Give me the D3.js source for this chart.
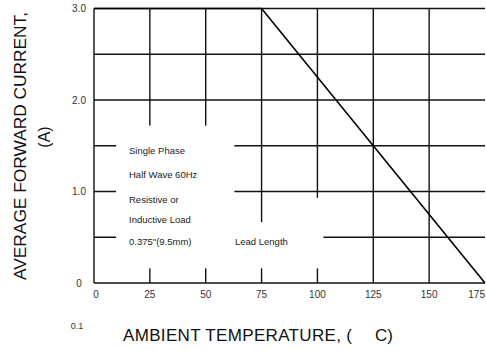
<!DOCTYPE html>
<html>
<head>
<meta charset="utf-8">
<script src="https://cdn.jsdelivr.net/npm/d3@7"></script>
<style>
	body { margin: 0; background: #fff; }
	svg { display: block; font-family: "Liberation Sans", Arial, sans-serif; }
</style>
</head>
<body>
<div id="chart"></div>
<script>
/* derating curve: ambient temperature (C) vs average forward current (A) */
const temperatures = [0, 75, 175];
const currents = [3.0, 3.0, 0];

/* grid and tick values */
const xTicks = [0, 25, 50, 75, 100, 125, 150, 175];
const gridX = [0, 25, 50, 75, 100, 125, 150];
const gridY = [0, 0.5, 1.0, 1.5, 2.0, 2.5, 3.0];
const yTickLabels = ["0", "1.0", "2.0", "3.0"];
const yTickValues = [0, 1, 2, 3];

/* note block text */
const noteLines = ["Single Phase", "Half Wave 60Hz", "Resistive or", "Inductive Load", "0.375\"(9.5mm)"];
const noteLevels = [1.41, 1.15, 0.87, 0.66, 0.42];

const width = 486, height = 351;

const svg = d3.select("#chart")
	.append("svg")
	.attr("width", width)
	.attr("height", height);

const x = d3.scaleLinear().domain([0, 175]).range([94, 485]);
const y = d3.scaleLinear().domain([0, 3]).range([283, 8.5]);

const grid = svg.append("g").attr("class", "grid")
	.attr("stroke", "#111")
	.attr("stroke-width", 1.4);

grid.selectAll(".vline")
	.data(gridX)
	.enter()
	.append("line")
		.attr("x1", (d) => x(d))
		.attr("x2", (d) => x(d))
		.attr("y1", y(0))
		.attr("y2", y(3));

grid.selectAll(".hline")
	.data(gridY)
	.enter()
	.append("line")
		.attr("x1", x(0))
		.attr("x2", x(175))
		.attr("y1", (d) => y(d))
		.attr("y2", (d) => y(d));

/* white knock-outs behind the note text (grid is broken there) */
const masks = [
	{ x0: 9.9, x1: 62.8, y0: 0.16, y1: 1.72 },
	{ x0: 62.5, x1: 102.7, y0: 0.16, y1: 0.665 },
	{ x0: 95, x1: 102.7, y0: 0.6, y1: 0.93 }
];
svg.append("g").selectAll("rect")
	.data(masks)
	.enter()
	.append("rect")
		.attr("x", (d) => x(d.x0))
		.attr("y", (d) => y(d.y1))
		.attr("width", (d) => x(d.x1) - x(d.x0))
		.attr("height", (d) => y(d.y0) - y(d.y1))
		.attr("fill", "#fff");

/* curve */
const line = d3.line()
	.x((d, i) => x(temperatures[i]))
	.y((d, i) => y(currents[i]));

svg.append("path")
	.datum(currents)
	.attr("d", line)
	.attr("fill", "none")
	.attr("stroke", "#000")
	.attr("stroke-width", 1.6);

/* y tick labels */
svg.append("g").selectAll("text")
	.data(yTickValues)
	.enter()
	.append("text")
		.attr("x", 79)
		.attr("y", (d) => y(d) + 3.5)
		.attr("text-anchor", "middle")
		.attr("font-size", "10px")
		.attr("fill", "#333")
		.text((d, i) => yTickLabels[i]);

/* x tick labels */
svg.append("g").selectAll("text")
	.data(xTicks)
	.enter()
	.append("text")
		.attr("x", (d) => d === 175 ? x(d) : x(d) + (d === 0 ? 2 : 0))
		.attr("y", 298)
		.attr("text-anchor", (d) => d === 175 ? "end" : "middle")
		.attr("font-size", "10px")
		.attr("fill", "#333")
		.text((d) => d);

svg.append("text")
	.attr("x", 77)
	.attr("y", 329)
	.attr("text-anchor", "middle")
	.attr("font-size", "9px")
	.attr("fill", "#333")
	.text("0.1");

/* axis titles */
svg.append("text")
	.attr("x", 123)
	.attr("y", 341)
	.attr("font-size", "17px")
	.attr("textLength", 229)
	.attr("fill", "#111")
	.text("AMBIENT TEMPERATURE, (");

svg.append("text")
	.attr("x", 375)
	.attr("y", 341)
	.attr("font-size", "17px")
	.attr("fill", "#111")
	.text("C)");

svg.append("text")
	.attr("transform", "translate(26,146) rotate(-90)")
	.attr("text-anchor", "middle")
	.attr("font-size", "17px")
	.attr("textLength", 268)
	.attr("lengthAdjust", "spacingAndGlyphs")
	.attr("fill", "#111")
	.text("AVERAGE FORWARD CURRENT,");

svg.append("text")
	.attr("transform", "translate(50,137) rotate(-90)")
	.attr("text-anchor", "middle")
	.attr("font-size", "16px")
	.attr("fill", "#111")
	.text("(A)");

/* note block */
svg.append("g").selectAll("text")
	.data(noteLines)
	.enter()
	.append("text")
		.attr("x", 129)
		.attr("y", (d, i) => y(noteLevels[i]))
		.attr("font-size", "9.5px")
		.attr("fill", "#222")
		.text((d) => d);

svg.append("text")
	.attr("x", 235)
	.attr("y", y(0.42))
	.attr("font-size", "9.5px")
	.attr("fill", "#222")
	.text("Lead Length");
</script>
</body>
</html>
